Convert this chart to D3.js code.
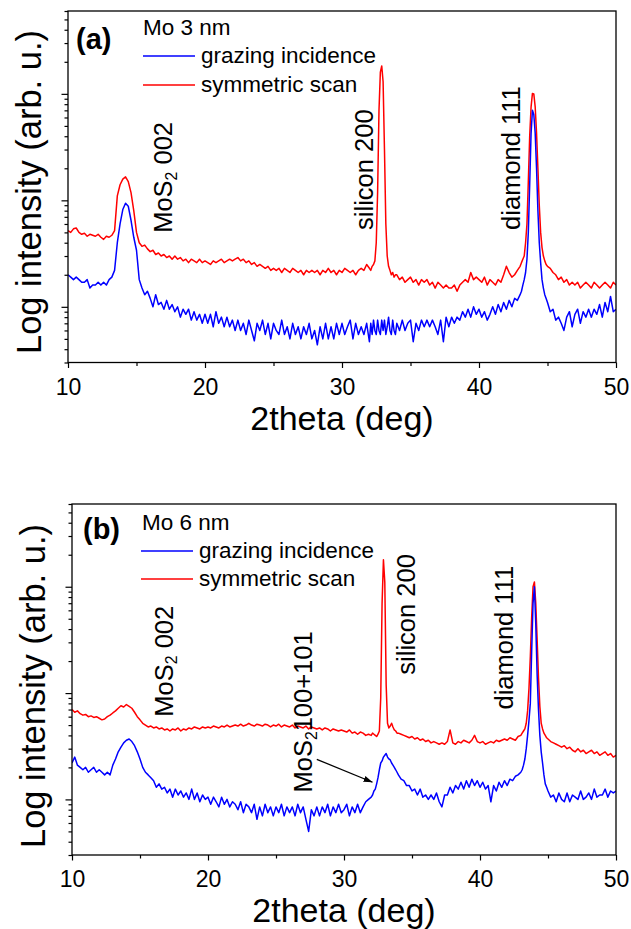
<!DOCTYPE html>
<html>
<head>
<meta charset="utf-8">
<script src="https://cdn.jsdelivr.net/npm/d3@7"></script>
<style>
body { margin: 0; background: #fff; }
svg text { font-family: "Liberation Sans", Arial, sans-serif; fill: #000; }
</style>
</head>
<body>
<script>
// scan grid (deg), finer steps round the two sharp peaks
var theta = [].concat(
    d3.range(100, 320, 2), d3.range(320, 340, 1), d3.range(340, 430, 2),
    d3.range(430, 450, 1), d3.range(450, 502, 2)).map(d => d / 10);

var xTicks = [10, 20, 30, 40, 50];
var xMinorTicks = [15, 25, 35, 45];
var yMajorTicks = [10, 100, 1000];
var yMinorTicks = [3, 4, 5, 6, 7, 8, 9, 20, 30, 40, 50, 60, 70, 80, 90,
    200, 300, 400, 500, 600, 700, 800, 900, 2000, 3000, 4000, 5000, 6000];

var seriesNames = ["grazing incidence", "symmetric scan"];
var sampleNames = ["Mo 3 nm", "Mo 6 nm"];

// (a) Mo 3 nm
var aSymmetric = [
    52, 50, 54, 55, 50, 48, 49, 46, 48, 47,
    46, 48, 45, 43, 46, 45, 47, 52, 110, 140,
    158, 166, 150, 118, 80, 50, 40, 37, 38, 35,
    33, 34, 31, 32, 30, 31, 29, 30, 28, 30,
    28, 29, 27, 28, 26, 28, 27, 26, 28, 26,
    27, 26, 25, 27, 26, 27, 28, 26, 27, 28,
    27, 28, 29, 27, 28, 26, 27, 25, 26, 24,
    25, 24, 23, 24, 22, 23, 22, 23, 21, 23,
    22, 21, 23, 22, 21, 22, 20, 22, 21, 22,
    21, 22, 20, 22, 21, 23, 21, 22, 20, 22,
    21, 23, 22, 21, 22, 20, 22, 23, 22, 25,
    23, 22, 24, 25, 27, 40, 120, 700, 1600, 1830, 1300, 300, 60, 30, 24, 22, 20, 21, 19, 20,
    20, 18, 19, 17, 18, 19, 17, 18, 16, 18,
    17, 18, 16, 17, 15, 17, 16, 15, 16, 15,
    15, 16, 14, 16, 17, 18, 17, 21, 18, 19,
    18, 17, 19, 16, 18, 17, 16, 18, 17, 20,
    24, 21, 19, 20, 22,
    24, 26, 28, 30, 40, 60, 150, 400, 750, 1010, 1000, 760, 430, 200, 90, 50, 36, 30, 27, 25,
    24, 23, 21, 20, 18, 19, 17, 18, 16, 17, 16, 17, 15, 16, 17, 16, 15, 17, 16, 15, 16, 17, 16, 15, 17, 16];

var aGrazing = [
    20, 19, 18, 19, 18, 17, 17, 18, 15, 16,
    16, 17, 16, 17, 16, 18, 19, 22, 40, 60,
    82, 94, 88, 65, 45, 34, 18, 15, 13, 14,
    12, 10, 13, 10.5, 11, 9.5, 11.5, 9.5, 10.5, 9,
    10, 8, 9.5, 8.5, 9.5, 7.5, 9, 7.5, 8.5, 7,
    8.5, 7, 8.5, 6.5, 9, 7, 8, 6.5, 8, 6.5,
    7.5, 6, 7.5, 6, 7, 5.5, 7.5, 6, 4.8, 7,
    6, 7.5, 5.5, 7, 5, 7, 6, 5.5, 7.5, 5.5,
    6.5, 5, 7, 5.5, 6.5, 5, 6.5, 5.5, 7, 5,
    6, 4.4, 6.5, 5, 7, 5, 6.5, 5, 7, 5.5,
    7, 5.5, 6.5, 7.5, 5, 7, 5.5, 6.5, 5.5, 7,
    4.7, 7, 5.5, 7.5, 6, 5.5, 7.5, 6, 5.5, 7.5, 6, 7.5, 5.5, 6.5, 8, 6, 5.5, 7.5, 6, 5.5,
    7, 6, 7.5, 6, 7, 7.5, 4.7, 7, 6, 7.5,
    6.5, 7.5, 6.5, 7.5, 6.5, 5.5, 7.5, 4.7, 8, 6.5,
    8, 7, 8, 7.5, 9, 8, 9.5, 8, 10, 8.5,
    9.5, 8, 9, 7.5, 8.5, 10, 8.5, 10.5, 9, 11,
    9.5, 11.5, 10, 12, 11.5,
    13, 14, 16, 18, 21, 28, 50, 140, 420, 700, 640, 430, 200, 80, 40, 26, 18, 15, 13, 12,
    11, 9, 9.5, 7.5, 8, 7, 6, 8, 9, 6.5, 8.5, 9.5, 7, 9, 8, 9.5, 8, 9.5, 8.5, 10.5, 8, 11, 9, 12.5, 9, 9.5];

// (b) Mo 6 nm
var bSymmetric = [
    70, 66, 68, 64, 62, 63, 60, 61, 59, 60,
    58, 56, 57, 60, 62, 65, 68, 72, 76, 74,
    78, 75, 72, 66, 60, 56, 52, 50, 48, 49,
    47, 48, 46, 47, 45, 46, 44, 46, 45, 47,
    44, 46, 45, 47, 46, 48, 47, 46, 48, 47,
    48, 47, 49, 48, 47, 49, 48, 50, 48, 49,
    50, 49, 51, 49, 50, 52, 50, 49, 51, 50,
    49, 51, 50, 48, 50, 49, 51, 48, 50, 49,
    48, 50, 47, 49, 48, 47, 49, 46, 48, 47,
    46, 47, 45, 47, 46, 44, 46, 45, 44, 45,
    44, 43, 45, 42, 43, 41, 43, 42, 40, 41,
    40, 42, 41, 40, 39, 41, 44, 90, 700, 1790, 1100, 120, 52, 47, 49, 52, 48, 45, 44, 42,
    42, 41, 40, 39, 38, 39, 37, 38, 36, 37,
    35, 36, 34, 35, 34, 33, 34, 33, 35, 45,
    34, 33, 35, 34, 36, 35, 34, 36, 40, 35,
    34, 35, 33, 34, 35, 34, 36, 35, 36, 37,
    36, 38, 37, 36, 39,
    40, 42, 44, 46, 52, 68, 110, 220, 520, 1000, 1110, 700, 320, 140, 75, 52, 46, 42, 40, 38,
    37, 35, 34, 33, 32, 31, 32, 30, 31, 29, 28, 30, 28, 29, 27, 28, 29, 27, 28, 26, 27, 28, 26, 27, 25, 26];

var bGrazing = [
    22, 25, 21, 20, 19, 20, 18, 19, 20, 18,
    19, 18, 17, 18, 17, 21, 24, 28, 31, 34,
    36, 37, 35, 32, 28, 24, 20, 18, 17, 16,
    15, 13, 14, 12.5, 13, 11.5, 12.5, 10.5, 12.5, 11,
    12, 10.5, 11.5, 10, 12.5, 10, 11.5, 9.5, 11, 10,
    10.5, 9, 10.5, 9.5, 8.5, 10.5, 9, 10, 8.5, 9.5,
    9, 8, 9.5, 7.5, 9, 8.5, 7.5, 9, 6.5, 8.5,
    7, 9, 7.5, 8.5, 7, 8.5, 7.5, 9, 7, 8.5,
    7.5, 8.5, 7, 9, 7.5, 8.5, 6.5, 5, 8, 7,
    8.5, 7, 8.5, 7.5, 9, 7, 8.5, 7.5, 9, 7.5,
    8, 9, 7, 8.5, 7.5, 9, 7.5, 8.5, 9.5, 10,
    10.5, 11, 12, 12.5, 14, 16, 19, 22, 23, 25, 26, 27, 25, 24, 23.5, 22, 21, 20, 19, 18,
    17, 15.5, 15, 13.5, 13.5, 12, 12.5, 11, 12.5, 10.5,
    11, 10, 11, 10, 11.5, 9.5, 8.5, 11, 11, 13,
    11.5, 13.5, 12.5, 14.5, 12.5, 15, 13, 15.5, 13.5, 15,
    13, 14.5, 12.5, 13.5, 9.5, 13.5, 12, 14.5, 13, 15,
    13.5, 15.5, 15, 16.5, 17,
    18, 19, 21, 24, 30, 40, 55, 80, 250, 700, 1000, 450, 150, 70, 40, 28, 22, 17, 14, 13,
    12, 10.5, 11, 9.5, 11.5, 10, 9.5, 11.5, 9.5, 11, 10.5, 10, 12, 10, 10.5, 11.5, 10, 12.5, 10.5, 11, 11, 12.5, 10.5, 12, 11.5, 12];

var colors = {grazing: "#0000ff", symmetric: "#ff0000"};

// layout of the two panels
var panels = [
    {tag: "(a)", sample: sampleNames[0], grazing: aGrazing, symmetric: aSymmetric,
     left: 68, right: 616, top: 11, bottom: 362.5, titleX: 41, titleY: 192,
     tagPos: [8, 38], samplePos: [75, 24], legendX: [75, 127, 133], legendY: [45, 74],
     peaks: [
        {main: "MoS", sub: "2", rest: " 002", at: [17.6, 49.5]},
        {main: "silicon 200", at: [32.26, 52.8]},
        {main: "diamond 111", at: [43.0, 52.8]}]},
    {tag: "(b)", sample: sampleNames[1], grazing: bGrazing, symmetric: bSymmetric,
     left: 72, right: 616, top: 504, bottom: 855, titleX: 45, titleY: 686,
     tagPos: [11, 35], samplePos: [70, 26], legendX: [69, 121, 127], legendY: [47, 75],
     peaks: [
        {main: "MoS", sub: "2", rest: " 002", at: [17.4, 60]},
        {main: "MoS", sub: "2", rest: "100+101", at: [27.65, 11.6]},
        {main: "silicon 200", at: [35.2, 149]},
        {main: "diamond 111", at: [42.4, 70]}],
     arrow: [[28.0, 23.8], [32.1, 14.5]]}
];

var svg = d3.select("body").append("svg")
    .attr("width", 631)
    .attr("height", 929);

svg.append("defs").append("marker")
    .attr("id", "arrowhead")
    .attr("viewBox", "0 0 10 10")
    .attr("refX", 10).attr("refY", 5)
    .attr("markerWidth", 9).attr("markerHeight", 9)
    .attr("markerUnits", "userSpaceOnUse")
    .attr("orient", "auto")
    .append("path")
    .attr("d", "M0,1.5 L10,5 L0,8.5 Z")
    .attr("fill", "#000");

panels.forEach(function(p, i) {
    var x = d3.scaleLinear().domain([10, 50]).range([p.left, p.right]);
    var y = d3.scaleLog().domain([3, 6000]).range([p.bottom, p.top]);
    var g = svg.append("g");

    g.append("clipPath").attr("id", "clip" + i)
        .append("rect")
        .attr("x", p.left).attr("y", p.top)
        .attr("width", p.right - p.left).attr("height", p.bottom - p.top);

    var line = d3.line()
        .x(d => x(d[0]))
        .y(d => y(d[1]));

    // red first, blue is drawn over it
    ["symmetric", "grazing"].forEach(function(key) {
        if (p[key].length !== theta.length) console.warn(key, p[key].length, theta.length);
        g.append("path")
            .datum(d3.zip(theta, p[key]))
            .attr("clip-path", "url(#clip" + i + ")")
            .attr("fill", "none")
            .attr("stroke", colors[key])
            .attr("stroke-width", 1.5)
            .attr("stroke-linejoin", "round")
            .attr("d", line);
    });

    // axes
    var xAxis = g.append("g")
        .attr("transform", `translate(0,${p.bottom})`)
        .call(d3.axisBottom(x).tickValues(xTicks).tickSize(5.5).tickSizeOuter(0));
    xAxis.selectAll("text")
        .attr("y", 32).attr("dy", null)
        .style("font-size", "23px");
    g.append("g")
        .attr("transform", `translate(0,${p.bottom})`)
        .call(d3.axisBottom(x).tickValues(xMinorTicks).tickSize(3.5).tickSizeOuter(0).tickFormat(""));
    g.append("g")
        .attr("transform", `translate(${p.left},0)`)
        .call(d3.axisLeft(y).tickValues(yMajorTicks).tickSize(6.5).tickSizeOuter(0).tickFormat(""));
    g.append("g")
        .attr("transform", `translate(${p.left},0)`)
        .call(d3.axisLeft(y).tickValues(yMinorTicks).tickSize(3.5).tickSizeOuter(0).tickFormat(""));
    g.selectAll(".domain").remove();
    g.selectAll(".tick line").attr("stroke-width", 1.2);

    g.append("rect")
        .attr("x", p.left).attr("y", p.top)
        .attr("width", p.right - p.left).attr("height", p.bottom - p.top)
        .attr("fill", "none")
        .attr("stroke", "#000")
        .attr("stroke-width", 1.3);

    // axis titles
    g.append("text")
        .attr("x", (p.left + p.right) / 2)
        .attr("y", p.bottom + 67)
        .attr("text-anchor", "middle")
        .style("font-size", "34px")
        .text("2theta (deg)");
    g.append("text")
        .attr("transform", `translate(${p.titleX},${p.titleY}) rotate(-90)`)
        .attr("text-anchor", "middle")
        .style("font-size", "34.5px")
        .text("Log intensity (arb. u.)");

    // panel tag and legend
    g.append("text")
        .attr("x", p.left + p.tagPos[0]).attr("y", p.top + p.tagPos[1])
        .style("font-size", "29px").style("font-weight", "bold")
        .text(p.tag);
    g.append("text")
        .attr("x", p.left + p.samplePos[0]).attr("y", p.top + p.samplePos[1])
        .style("font-size", "22.5px")
        .text(p.sample);
    ["grazing", "symmetric"].forEach(function(key, k) {
        var ly = p.top + p.legendY[k];
        g.append("line")
            .attr("x1", p.left + p.legendX[0]).attr("x2", p.left + p.legendX[1])
            .attr("y1", ly).attr("y2", ly)
            .attr("stroke", colors[key]).attr("stroke-width", 1.5);
        g.append("text")
            .attr("x", p.left + p.legendX[2]).attr("y", ly + 7)
            .style("font-size", "22.5px")
            .text(seriesNames[k]);
    });

    // peak labels
    p.peaks.forEach(function(pk) {
        var t = g.append("text")
            .attr("transform", `translate(${x(pk.at[0])},${y(pk.at[1])}) rotate(-90)`)
            .style("font-size", "25.5px");
        t.append("tspan").text(pk.main);
        if (pk.sub) {
            t.append("tspan").attr("dy", "0.3em").style("font-size", "0.62em").text(pk.sub);
            t.append("tspan").attr("dy", "-0.186em").text(pk.rest);
        }
    });

    if (p.arrow) {
        g.append("line")
            .attr("x1", x(p.arrow[0][0])).attr("y1", y(p.arrow[0][1]))
            .attr("x2", x(p.arrow[1][0])).attr("y2", y(p.arrow[1][1]))
            .attr("stroke", "#000").attr("stroke-width", 1.3)
            .attr("marker-end", "url(#arrowhead)");
    }
});
</script>
</body>
</html>
